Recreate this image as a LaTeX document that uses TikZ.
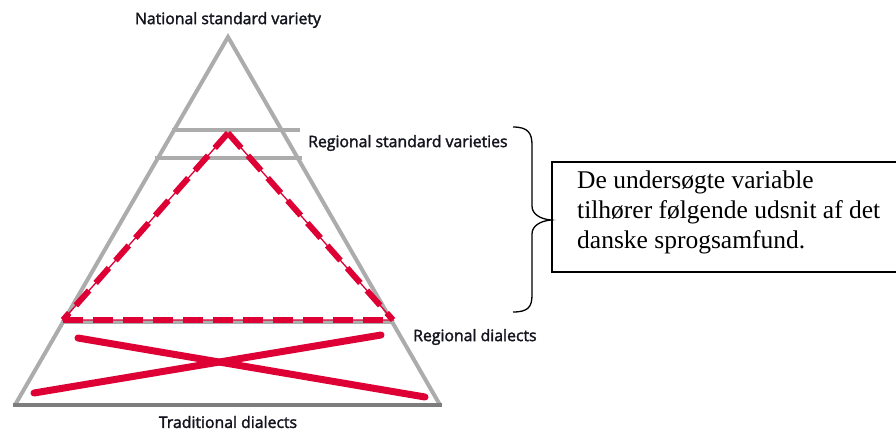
\documentclass[tikz,border=0pt]{standalone}
\usepackage{fontspec}
\setmainfont{Liberation Serif}
\newfontfamily\labelfont{Open Sans}[UprightFeatures={FakeBold=2}]
\begin{document}
\begin{tikzpicture}[x=1pt,y=-1pt,
  tri/.style={draw=triGray,line width=4pt},
  base/.style={draw=baseGray,line width=4pt},
  redthin/.style={draw=redX,line width=1.3pt},
  reddash/.style={draw=redX,line width=6pt,dash pattern=on 20pt off 10pt},
  redcross/.style={draw=redX,line width=7pt,line cap=round},
  lbl/.style={font=\labelfont\fontsize{15.8}{18}\selectfont,text=labelInk,inner sep=0pt},
  boxtext/.style={font=\fontsize{25.5}{30}\selectfont,align=left,inner sep=0pt}
]
\definecolor{triGray}{RGB}{172,172,172}
\definecolor{baseGray}{RGB}{125,125,125}
\definecolor{redX}{RGB}{222,0,52}
\definecolor{labelInk}{RGB}{20,20,30}
\useasboundingbox (0,0) rectangle (896,432);
% big triangle
\coordinate (A) at (228,37);
\coordinate (L) at (15,405);
\coordinate (R) at (440,405);
\draw[tri,line join=miter] (L) -- (A) -- (R);
\draw[base] (13,405) -- (442,405);
% horizontal grey lines
\draw[tri] (172,130) -- (300,130);
\draw[tri] (155,158) -- (302,158);
\draw[tri] (63,322) -- (392,322);
% red dashed triangle
\coordinate (a) at (228,133);
\coordinate (l) at (63,320);
\coordinate (r) at (393,320);
\draw[redthin] (l) -- (a) -- (r) -- cycle;
\draw[reddash] (a) -- (l);
\draw[reddash] (a) -- (r);
\draw[reddash] (l) -- (r);
% red cross
\draw[redcross] (78,338) -- (425,397);
\draw[redcross] (34,393) -- (381,335);
% labels
\node[lbl] (nat) at (228,20) {National standard variety};
\node[lbl,anchor=west] (rsv) at (308,143) {Regional standard varieties};
\node[lbl,anchor=west] (rd) at (413,337) {Regional dialects};
\node[lbl] (td) at (228,422) {Traditional dialects};
% brace
\draw[line width=1.3pt] (513,127) .. controls (528,127) and (532,133) .. (532,145)
  -- (532,206) .. controls (532,214) and (540,219) .. (551,220)
  .. controls (540,221) and (532,226) .. (532,234)
  -- (532,295) .. controls (532,307) and (528,312) .. (513,312);
% box (right side lies beyond the picture)
\draw[line width=1.3pt] (905,162) -- (552,162) -- (552,272) -- (905,272);
\node[boxtext,anchor=base west] (box) at (577,248) {De undersøgte variable\\tilhører følgende udsnit af det\\danske sprogsamfund.};
\end{tikzpicture}
\end{document}
